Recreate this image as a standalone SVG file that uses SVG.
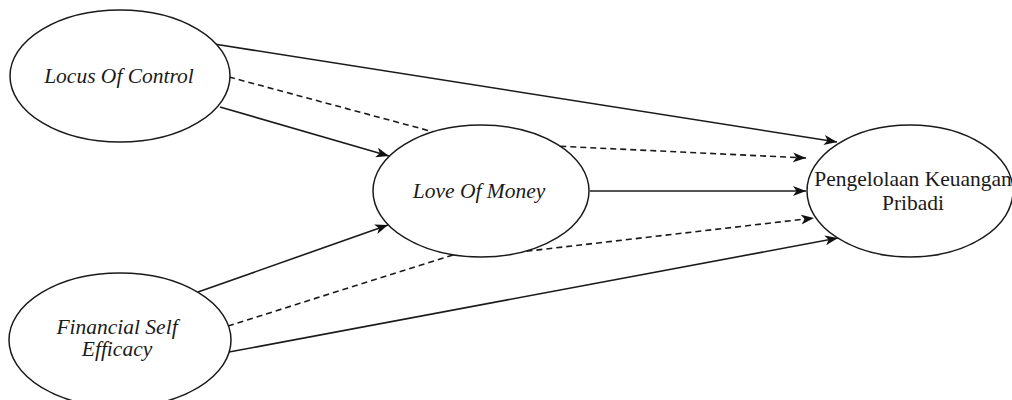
<svg xmlns="http://www.w3.org/2000/svg" width="1012" height="400" viewBox="0 0 1012 400">
  <defs>
    <marker id="arrow" markerUnits="userSpaceOnUse" markerWidth="14" markerHeight="11" refX="13" refY="5" orient="auto">
      <path d="M0,0 L13,5 L0,10 L3.5,5 Z" fill="#111"/>
    </marker>
    <style>
      .edge { fill: none; stroke: #1a1a1a; stroke-width: 1.6; marker-end: url(#arrow); }
      .dashed { stroke-dasharray: 6 4; }
      .node ellipse { fill: #ffffff; stroke: #1a1a1a; stroke-width: 1.5; }
      .label { font-family: "Liberation Serif", "Times New Roman", serif; font-size: 21.5px; fill: #1a1a1a; text-anchor: middle; }
      .it { font-style: italic; }
    </style>
  </defs>
  <rect width="1012" height="400" fill="#ffffff"/>

  <!-- connectors (drawn first so the ellipses mask the hidden bends) -->
  <g id="connectors">
    <path class="edge" d="M214,44 L837,142"/>
    <path class="edge dashed" d="M229,77 L471,142 L806,158"/>
    <path class="edge" d="M220,107 L389,156"/>
    <path class="edge" d="M590,191 L806,191"/>
    <path class="edge" d="M198,292 L388,225"/>
    <path class="edge dashed" d="M228,326 L460,252.7 L500,254.3 L814,218"/>
    <path class="edge" d="M229,352 L838,238"/>
  </g>

  <g id="node-locus" class="node">
    <ellipse cx="120" cy="76" rx="110" ry="66"/>
    <text class="label it" x="119" y="83">Locus Of Control</text>
  </g>

  <g id="node-financial" class="node">
    <ellipse cx="120" cy="340" rx="111" ry="67"/>
    <text class="label it" x="117" y="334">Financial Self</text>
    <text class="label it" x="117" y="356">Efficacy</text>
  </g>

  <g id="node-love" class="node">
    <ellipse cx="481" cy="191" rx="108" ry="66"/>
    <text class="label it" x="479" y="198">Love Of Money</text>
  </g>

  <g id="node-pengelolaan" class="node">
    <ellipse cx="910" cy="191" rx="103" ry="66"/>
    <text class="label" x="913" y="186">Pengelolaan Keuangan</text>
    <text class="label" x="913" y="210">Pribadi</text>
  </g>
</svg>
